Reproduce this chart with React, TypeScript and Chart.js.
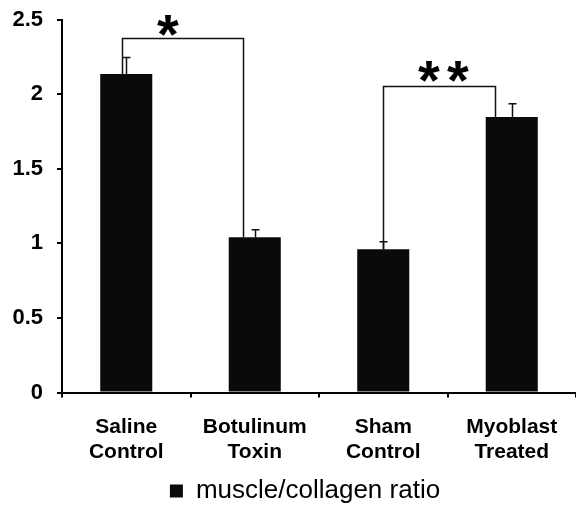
import React, { useEffect, useRef } from 'react';
import { Chart, registerables } from 'chart.js';

Chart.register(...registerables);

// ---- data ----
const categories: string[][] = [
  ['Saline', 'Control'],
  ['Botulinum', 'Toxin'],
  ['Sham', 'Control'],
  ['Myoblast', 'Treated'],
];
const ratioValues = [2.135, 1.04, 0.96, 1.846];
const ratioErrors = [0.11, 0.05, 0.05, 0.09];
const yTicks = [0, 0.5, 1, 1.5, 2, 2.5];
const seriesLabel = 'muscle/collagen ratio';
const bracketFrom = [0, 2];
const bracketTo = [1, 3];
const bracketLevel = [2.378, 2.054];
const bracketMark = ['*', '**'];

// ---- styles ----
const FONT = '"Liberation Sans", Arial, Helvetica, sans-serif';
const bracketStyles = [
  { leftDx: -4, rightDx: -12, starDx: -15, starRise: 12.7 },
  { leftDx: 0, rightDx: -17, starDx: 4, starRise: 15 },
];

const annotPlugin = {
  id: 'annot',
  afterDatasetsDraw(chart: any) {
    const ctx = chart.ctx as CanvasRenderingContext2D;
    const xs = chart.scales.x;
    const ys = chart.scales.y;
    ctx.save();
    ctx.strokeStyle = '#111';
    ctx.lineWidth = 1.5;
    ratioValues.forEach((v, i) => {
      const px = Math.round(xs.getPixelForValue(i)) + 0.5;
      const base = ys.getPixelForValue(v);
      const top = ys.getPixelForValue(v + ratioErrors[i]);
      ctx.beginPath();
      ctx.moveTo(px, base);
      ctx.lineTo(px, top);
      ctx.moveTo(px - 4, top);
      ctx.lineTo(px + 4, top);
      ctx.stroke();
    });
    bracketFrom.forEach((from, k) => {
      const to = bracketTo[k];
      const s = bracketStyles[k];
      const x1 = Math.round(xs.getPixelForValue(from) + s.leftDx) + 0.5;
      const x2 = Math.round(xs.getPixelForValue(to) + s.rightDx) + 0.5;
      const yl = Math.round(ys.getPixelForValue(bracketLevel[k])) + 0.5;
      const y1 = ys.getPixelForValue(ratioValues[from]);
      const y2 = ys.getPixelForValue(ratioValues[to]);
      ctx.strokeStyle = '#111';
      ctx.lineWidth = 1.5;
      ctx.beginPath();
      ctx.moveTo(x1, y1);
      ctx.lineTo(x1, yl);
      ctx.lineTo(x2, yl);
      ctx.lineTo(x2, y2);
      ctx.stroke();
      ctx.font = 'bold 56px ' + FONT;
      ctx.textAlign = 'center';
      ctx.textBaseline = 'alphabetic';
      ctx.fillStyle = '#000';
      const m = ctx.measureText('*');
      const mid = (m.actualBoundingBoxAscent - m.actualBoundingBoxDescent) / 2;
      const cy = yl - s.starRise;
      const cx = (x1 + x2) / 2 + s.starDx;
      const mark = bracketMark[k];
      const n = mark.length;
      const pitch = 29;
      for (let j = 0; j < n; j++) {
        ctx.fillText('*', cx + (j - (n - 1) / 2) * pitch, cy + mid);
      }
    });
    ctx.restore();
  },
};

export default function App() {
  const ref = useRef<HTMLCanvasElement | null>(null);
  useEffect(() => {
    if (!ref.current) return;
    const chart = new Chart(ref.current, {
      type: 'bar',
      data: {
        labels: categories as any,
        datasets: [
          {
            label: seriesLabel,
            data: ratioValues,
            backgroundColor: '#0a0a0a',
            borderWidth: 0,
            categoryPercentage: 1,
            barPercentage: 0.405,
          },
        ],
      },
      options: {
        responsive: false,
        animation: false,
        layout: { padding: { left: 34, right: 0, top: 19.5, bottom: 12 } },
        plugins: {
          legend: {
            position: 'bottom',
            labels: {
              boxWidth: 13,
              boxHeight: 13,
              color: '#000',
              padding: 10,
              font: { family: FONT, size: 26 },
            },
          },
          tooltip: { enabled: false },
        },
        scales: {
          x: {
            grid: {
              offset: true,
              drawOnChartArea: false,
              drawTicks: true,
              tickLength: 5,
              color: '#000',
              lineWidth: 2,
            },
            border: { display: true, color: '#000', width: 2 },
            ticks: {
              color: '#000',
              font: { family: FONT, size: 21, weight: 'bold' },
              padding: 17,
              maxRotation: 0,
              autoSkip: false,
            },
            afterFit: (s: any) => {
              s.height = 75.5;
            },
          },
          y: {
            min: 0,
            max: 2.5,
            afterBuildTicks: (s: any) => {
              s.ticks = yTicks.map((v) => ({ value: v }));
            },
            ticks: {
              color: '#000',
              font: { family: FONT, size: 22, weight: 'bold' },
              padding: 14,
              callback: (v: any) => String(v),
            },
            grid: {
              drawOnChartArea: false,
              drawTicks: true,
              tickLength: 5,
              color: '#000',
              lineWidth: 2,
            },
            border: { display: true, color: '#000', width: 2 },
            afterFit: (s: any) => {
              s.width = 28;
              s.paddingTop = 0;
              s.paddingBottom = 0;
              s._computeLabelArea = () => ({ top: 0, left: 0, bottom: s.chart.height, right: s.right });
            },
          },
        },
      } as any,
      plugins: [annotPlugin],
    });
    return () => chart.destroy();
  }, []);
  return (
    <div style={{ position: 'fixed', left: 0, top: 0, width: 576, height: 526, background: '#fff' }}>
      <canvas ref={ref} width={576} height={526} style={{ display: 'block' }} />
    </div>
  );
}
